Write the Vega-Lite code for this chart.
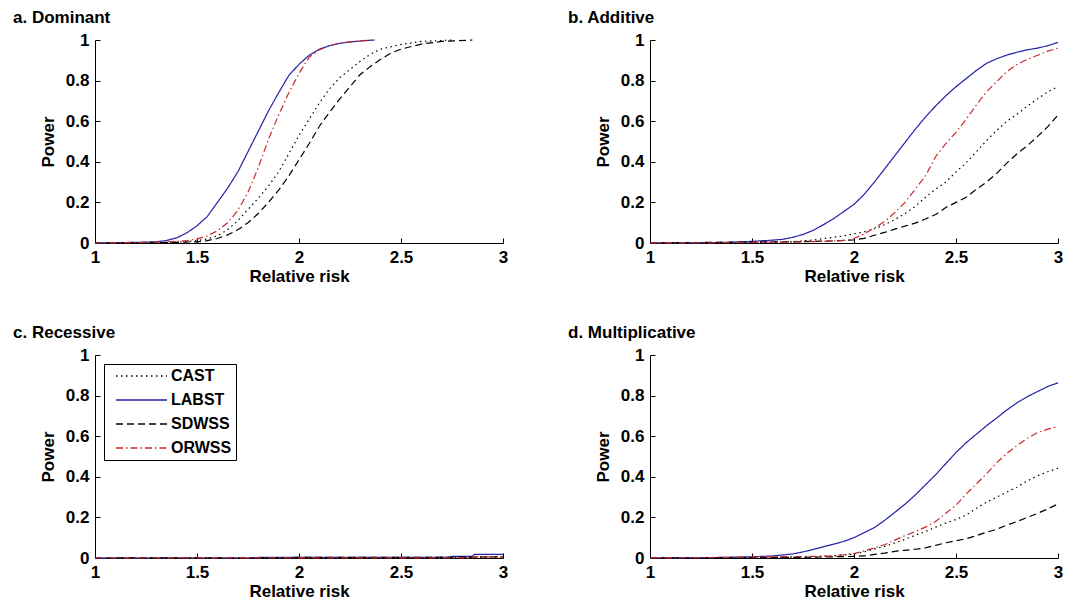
{
"$schema": "https://vega.github.io/schema/vega-lite/v6.json",
"background": "white",
"padding": {"left": 13, "top": 9, "right": 5, "bottom": 5},
"config": {
  "font": "Liberation Sans",
  "view": {"stroke": null},
  "axis": {"labelFontSize": 17, "labelFontWeight": "bold", "labelColor": "#000", "titleFontSize": 17, "titleFontWeight": "bold", "titleColor": "#000", "domainColor": "#000", "tickColor": "#000", "grid": false, "tickSize": -5, "labelFlush": false, "labelOverlap": false, "labelPadding": 11, "domainWidth": 1, "tickWidth": 1},
  "axisY": {"titlePadding": 8},
  "axisX": {"titlePadding": 3},
  "legend": {"orient": "top-left", "offset": 9, "strokeColor": "#000", "fillColor": "#fff", "padding": 4, "symbolType": "M0,0H10", "symbolSize": 104, "symbolStrokeWidth": 1.4, "labelFontSize": 16, "labelFontWeight": "bold", "labelColor": "#000", "labelOffset": 47, "rowPadding": 8},
  "title": {"fontSize": 17, "fontWeight": "bold", "anchor": "start", "color": "#000", "frame": "group", "dx": -82}
},
"datasets": {"curves": [
{"model":"Dominant","method":"CAST","rr":1,"power":0},{"model":"Dominant","method":"CAST","rr":1.2,"power":0.001},{"model":"Dominant","method":"CAST","rr":1.3,"power":0.002},{"model":"Dominant","method":"CAST","rr":1.4,"power":0.004},{"model":"Dominant","method":"CAST","rr":1.45,"power":0.007},{"model":"Dominant","method":"CAST","rr":1.5,"power":0.012},{"model":"Dominant","method":"CAST","rr":1.55,"power":0.02},{"model":"Dominant","method":"CAST","rr":1.6,"power":0.035},{"model":"Dominant","method":"CAST","rr":1.65,"power":0.065},{"model":"Dominant","method":"CAST","rr":1.7,"power":0.11},{"model":"Dominant","method":"CAST","rr":1.75,"power":0.165},{"model":"Dominant","method":"CAST","rr":1.8,"power":0.22},{"model":"Dominant","method":"CAST","rr":1.85,"power":0.28},{"model":"Dominant","method":"CAST","rr":1.9,"power":0.35},{"model":"Dominant","method":"CAST","rr":1.95,"power":0.44},{"model":"Dominant","method":"CAST","rr":2,"power":0.53},{"model":"Dominant","method":"CAST","rr":2.05,"power":0.61},{"model":"Dominant","method":"CAST","rr":2.1,"power":0.69},{"model":"Dominant","method":"CAST","rr":2.15,"power":0.76},{"model":"Dominant","method":"CAST","rr":2.2,"power":0.815},{"model":"Dominant","method":"CAST","rr":2.25,"power":0.855},{"model":"Dominant","method":"CAST","rr":2.3,"power":0.895},{"model":"Dominant","method":"CAST","rr":2.35,"power":0.93},{"model":"Dominant","method":"CAST","rr":2.4,"power":0.955},{"model":"Dominant","method":"CAST","rr":2.5,"power":0.978},{"model":"Dominant","method":"CAST","rr":2.6,"power":0.993},{"model":"Dominant","method":"CAST","rr":2.75,"power":1},
{"model":"Dominant","method":"LABST","rr":1,"power":0},{"model":"Dominant","method":"LABST","rr":1.1,"power":0.002},{"model":"Dominant","method":"LABST","rr":1.2,"power":0.003},{"model":"Dominant","method":"LABST","rr":1.3,"power":0.006},{"model":"Dominant","method":"LABST","rr":1.35,"power":0.012},{"model":"Dominant","method":"LABST","rr":1.4,"power":0.025},{"model":"Dominant","method":"LABST","rr":1.45,"power":0.05},{"model":"Dominant","method":"LABST","rr":1.5,"power":0.085},{"model":"Dominant","method":"LABST","rr":1.55,"power":0.13},{"model":"Dominant","method":"LABST","rr":1.6,"power":0.2},{"model":"Dominant","method":"LABST","rr":1.65,"power":0.27},{"model":"Dominant","method":"LABST","rr":1.7,"power":0.35},{"model":"Dominant","method":"LABST","rr":1.75,"power":0.45},{"model":"Dominant","method":"LABST","rr":1.8,"power":0.55},{"model":"Dominant","method":"LABST","rr":1.85,"power":0.65},{"model":"Dominant","method":"LABST","rr":1.9,"power":0.74},{"model":"Dominant","method":"LABST","rr":1.95,"power":0.825},{"model":"Dominant","method":"LABST","rr":2,"power":0.88},{"model":"Dominant","method":"LABST","rr":2.05,"power":0.925},{"model":"Dominant","method":"LABST","rr":2.1,"power":0.955},{"model":"Dominant","method":"LABST","rr":2.15,"power":0.972},{"model":"Dominant","method":"LABST","rr":2.2,"power":0.984},{"model":"Dominant","method":"LABST","rr":2.25,"power":0.99},{"model":"Dominant","method":"LABST","rr":2.3,"power":0.995},{"model":"Dominant","method":"LABST","rr":2.37,"power":1},
{"model":"Dominant","method":"SDWSS","rr":1,"power":0},{"model":"Dominant","method":"SDWSS","rr":1.2,"power":0.001},{"model":"Dominant","method":"SDWSS","rr":1.4,"power":0.003},{"model":"Dominant","method":"SDWSS","rr":1.5,"power":0.006},{"model":"Dominant","method":"SDWSS","rr":1.55,"power":0.012},{"model":"Dominant","method":"SDWSS","rr":1.6,"power":0.022},{"model":"Dominant","method":"SDWSS","rr":1.65,"power":0.04},{"model":"Dominant","method":"SDWSS","rr":1.7,"power":0.065},{"model":"Dominant","method":"SDWSS","rr":1.75,"power":0.1},{"model":"Dominant","method":"SDWSS","rr":1.8,"power":0.145},{"model":"Dominant","method":"SDWSS","rr":1.85,"power":0.2},{"model":"Dominant","method":"SDWSS","rr":1.9,"power":0.26},{"model":"Dominant","method":"SDWSS","rr":1.95,"power":0.33},{"model":"Dominant","method":"SDWSS","rr":2,"power":0.41},{"model":"Dominant","method":"SDWSS","rr":2.05,"power":0.49},{"model":"Dominant","method":"SDWSS","rr":2.1,"power":0.575},{"model":"Dominant","method":"SDWSS","rr":2.15,"power":0.645},{"model":"Dominant","method":"SDWSS","rr":2.2,"power":0.71},{"model":"Dominant","method":"SDWSS","rr":2.25,"power":0.77},{"model":"Dominant","method":"SDWSS","rr":2.3,"power":0.83},{"model":"Dominant","method":"SDWSS","rr":2.35,"power":0.87},{"model":"Dominant","method":"SDWSS","rr":2.4,"power":0.905},{"model":"Dominant","method":"SDWSS","rr":2.45,"power":0.935},{"model":"Dominant","method":"SDWSS","rr":2.5,"power":0.955},{"model":"Dominant","method":"SDWSS","rr":2.6,"power":0.98},{"model":"Dominant","method":"SDWSS","rr":2.7,"power":0.993},{"model":"Dominant","method":"SDWSS","rr":2.85,"power":1},
{"model":"Dominant","method":"ORWSS","rr":1,"power":0},{"model":"Dominant","method":"ORWSS","rr":1.1,"power":0.001},{"model":"Dominant","method":"ORWSS","rr":1.2,"power":0.002},{"model":"Dominant","method":"ORWSS","rr":1.3,"power":0.004},{"model":"Dominant","method":"ORWSS","rr":1.4,"power":0.008},{"model":"Dominant","method":"ORWSS","rr":1.45,"power":0.012},{"model":"Dominant","method":"ORWSS","rr":1.5,"power":0.02},{"model":"Dominant","method":"ORWSS","rr":1.55,"power":0.035},{"model":"Dominant","method":"ORWSS","rr":1.6,"power":0.06},{"model":"Dominant","method":"ORWSS","rr":1.65,"power":0.1},{"model":"Dominant","method":"ORWSS","rr":1.7,"power":0.16},{"model":"Dominant","method":"ORWSS","rr":1.75,"power":0.25},{"model":"Dominant","method":"ORWSS","rr":1.8,"power":0.37},{"model":"Dominant","method":"ORWSS","rr":1.85,"power":0.51},{"model":"Dominant","method":"ORWSS","rr":1.9,"power":0.63},{"model":"Dominant","method":"ORWSS","rr":1.95,"power":0.74},{"model":"Dominant","method":"ORWSS","rr":2,"power":0.835},{"model":"Dominant","method":"ORWSS","rr":2.05,"power":0.915},{"model":"Dominant","method":"ORWSS","rr":2.1,"power":0.952},{"model":"Dominant","method":"ORWSS","rr":2.15,"power":0.972},{"model":"Dominant","method":"ORWSS","rr":2.2,"power":0.985},{"model":"Dominant","method":"ORWSS","rr":2.3,"power":0.996},{"model":"Dominant","method":"ORWSS","rr":2.37,"power":1},
{"model":"Additive","method":"CAST","rr":1,"power":0},{"model":"Additive","method":"CAST","rr":1.5,"power":0.002},{"model":"Additive","method":"CAST","rr":1.7,"power":0.006},{"model":"Additive","method":"CAST","rr":1.8,"power":0.015},{"model":"Additive","method":"CAST","rr":1.9,"power":0.028},{"model":"Additive","method":"CAST","rr":1.95,"power":0.035},{"model":"Additive","method":"CAST","rr":2,"power":0.045},{"model":"Additive","method":"CAST","rr":2.05,"power":0.055},{"model":"Additive","method":"CAST","rr":2.1,"power":0.07},{"model":"Additive","method":"CAST","rr":2.15,"power":0.09},{"model":"Additive","method":"CAST","rr":2.2,"power":0.115},{"model":"Additive","method":"CAST","rr":2.25,"power":0.145},{"model":"Additive","method":"CAST","rr":2.3,"power":0.18},{"model":"Additive","method":"CAST","rr":2.35,"power":0.225},{"model":"Additive","method":"CAST","rr":2.4,"power":0.265},{"model":"Additive","method":"CAST","rr":2.45,"power":0.3},{"model":"Additive","method":"CAST","rr":2.5,"power":0.35},{"model":"Additive","method":"CAST","rr":2.55,"power":0.395},{"model":"Additive","method":"CAST","rr":2.6,"power":0.45},{"model":"Additive","method":"CAST","rr":2.65,"power":0.505},{"model":"Additive","method":"CAST","rr":2.7,"power":0.555},{"model":"Additive","method":"CAST","rr":2.75,"power":0.6},{"model":"Additive","method":"CAST","rr":2.8,"power":0.635},{"model":"Additive","method":"CAST","rr":2.85,"power":0.675},{"model":"Additive","method":"CAST","rr":2.9,"power":0.71},{"model":"Additive","method":"CAST","rr":2.95,"power":0.745},{"model":"Additive","method":"CAST","rr":3,"power":0.77},
{"model":"Additive","method":"LABST","rr":1,"power":0},{"model":"Additive","method":"LABST","rr":1.2,"power":0.001},{"model":"Additive","method":"LABST","rr":1.3,"power":0.002},{"model":"Additive","method":"LABST","rr":1.4,"power":0.004},{"model":"Additive","method":"LABST","rr":1.5,"power":0.008},{"model":"Additive","method":"LABST","rr":1.55,"power":0.011},{"model":"Additive","method":"LABST","rr":1.6,"power":0.014},{"model":"Additive","method":"LABST","rr":1.65,"power":0.018},{"model":"Additive","method":"LABST","rr":1.7,"power":0.028},{"model":"Additive","method":"LABST","rr":1.75,"power":0.042},{"model":"Additive","method":"LABST","rr":1.8,"power":0.062},{"model":"Additive","method":"LABST","rr":1.85,"power":0.09},{"model":"Additive","method":"LABST","rr":1.9,"power":0.12},{"model":"Additive","method":"LABST","rr":1.95,"power":0.155},{"model":"Additive","method":"LABST","rr":2,"power":0.19},{"model":"Additive","method":"LABST","rr":2.05,"power":0.24},{"model":"Additive","method":"LABST","rr":2.1,"power":0.3},{"model":"Additive","method":"LABST","rr":2.15,"power":0.365},{"model":"Additive","method":"LABST","rr":2.2,"power":0.43},{"model":"Additive","method":"LABST","rr":2.25,"power":0.495},{"model":"Additive","method":"LABST","rr":2.3,"power":0.56},{"model":"Additive","method":"LABST","rr":2.35,"power":0.62},{"model":"Additive","method":"LABST","rr":2.4,"power":0.675},{"model":"Additive","method":"LABST","rr":2.45,"power":0.725},{"model":"Additive","method":"LABST","rr":2.5,"power":0.77},{"model":"Additive","method":"LABST","rr":2.55,"power":0.81},{"model":"Additive","method":"LABST","rr":2.6,"power":0.85},{"model":"Additive","method":"LABST","rr":2.65,"power":0.885},{"model":"Additive","method":"LABST","rr":2.7,"power":0.908},{"model":"Additive","method":"LABST","rr":2.75,"power":0.926},{"model":"Additive","method":"LABST","rr":2.8,"power":0.94},{"model":"Additive","method":"LABST","rr":2.85,"power":0.952},{"model":"Additive","method":"LABST","rr":2.9,"power":0.96},{"model":"Additive","method":"LABST","rr":2.95,"power":0.972},{"model":"Additive","method":"LABST","rr":3,"power":0.988},
{"model":"Additive","method":"SDWSS","rr":1,"power":0},{"model":"Additive","method":"SDWSS","rr":1.3,"power":0.003},{"model":"Additive","method":"SDWSS","rr":1.5,"power":0.005},{"model":"Additive","method":"SDWSS","rr":1.7,"power":0.006},{"model":"Additive","method":"SDWSS","rr":1.8,"power":0.008},{"model":"Additive","method":"SDWSS","rr":1.9,"power":0.01},{"model":"Additive","method":"SDWSS","rr":2,"power":0.015},{"model":"Additive","method":"SDWSS","rr":2.05,"power":0.023},{"model":"Additive","method":"SDWSS","rr":2.1,"power":0.038},{"model":"Additive","method":"SDWSS","rr":2.15,"power":0.052},{"model":"Additive","method":"SDWSS","rr":2.2,"power":0.068},{"model":"Additive","method":"SDWSS","rr":2.25,"power":0.083},{"model":"Additive","method":"SDWSS","rr":2.3,"power":0.098},{"model":"Additive","method":"SDWSS","rr":2.35,"power":0.118},{"model":"Additive","method":"SDWSS","rr":2.4,"power":0.14},{"model":"Additive","method":"SDWSS","rr":2.45,"power":0.175},{"model":"Additive","method":"SDWSS","rr":2.5,"power":0.2},{"model":"Additive","method":"SDWSS","rr":2.55,"power":0.225},{"model":"Additive","method":"SDWSS","rr":2.6,"power":0.265},{"model":"Additive","method":"SDWSS","rr":2.65,"power":0.3},{"model":"Additive","method":"SDWSS","rr":2.7,"power":0.343},{"model":"Additive","method":"SDWSS","rr":2.75,"power":0.395},{"model":"Additive","method":"SDWSS","rr":2.8,"power":0.44},{"model":"Additive","method":"SDWSS","rr":2.85,"power":0.48},{"model":"Additive","method":"SDWSS","rr":2.9,"power":0.525},{"model":"Additive","method":"SDWSS","rr":2.95,"power":0.573},{"model":"Additive","method":"SDWSS","rr":3,"power":0.63},
{"model":"Additive","method":"ORWSS","rr":1,"power":0},{"model":"Additive","method":"ORWSS","rr":1.3,"power":0.001},{"model":"Additive","method":"ORWSS","rr":1.5,"power":0.003},{"model":"Additive","method":"ORWSS","rr":1.7,"power":0.005},{"model":"Additive","method":"ORWSS","rr":1.8,"power":0.007},{"model":"Additive","method":"ORWSS","rr":1.9,"power":0.01},{"model":"Additive","method":"ORWSS","rr":1.95,"power":0.013},{"model":"Additive","method":"ORWSS","rr":2,"power":0.022},{"model":"Additive","method":"ORWSS","rr":2.05,"power":0.045},{"model":"Additive","method":"ORWSS","rr":2.1,"power":0.075},{"model":"Additive","method":"ORWSS","rr":2.15,"power":0.105},{"model":"Additive","method":"ORWSS","rr":2.2,"power":0.15},{"model":"Additive","method":"ORWSS","rr":2.25,"power":0.2},{"model":"Additive","method":"ORWSS","rr":2.3,"power":0.265},{"model":"Additive","method":"ORWSS","rr":2.35,"power":0.33},{"model":"Additive","method":"ORWSS","rr":2.4,"power":0.425},{"model":"Additive","method":"ORWSS","rr":2.45,"power":0.49},{"model":"Additive","method":"ORWSS","rr":2.5,"power":0.545},{"model":"Additive","method":"ORWSS","rr":2.55,"power":0.61},{"model":"Additive","method":"ORWSS","rr":2.6,"power":0.68},{"model":"Additive","method":"ORWSS","rr":2.65,"power":0.745},{"model":"Additive","method":"ORWSS","rr":2.7,"power":0.795},{"model":"Additive","method":"ORWSS","rr":2.75,"power":0.845},{"model":"Additive","method":"ORWSS","rr":2.8,"power":0.88},{"model":"Additive","method":"ORWSS","rr":2.85,"power":0.905},{"model":"Additive","method":"ORWSS","rr":2.9,"power":0.925},{"model":"Additive","method":"ORWSS","rr":2.95,"power":0.945},{"model":"Additive","method":"ORWSS","rr":3,"power":0.96},
{"model":"Recessive","method":"CAST","rr":1,"power":0},{"model":"Recessive","method":"CAST","rr":1.5,"power":0.001},{"model":"Recessive","method":"CAST","rr":2,"power":0.002},{"model":"Recessive","method":"CAST","rr":2.5,"power":0.002},{"model":"Recessive","method":"CAST","rr":2.75,"power":0.003},{"model":"Recessive","method":"CAST","rr":3,"power":0.004},
{"model":"Recessive","method":"LABST","rr":1,"power":0},{"model":"Recessive","method":"LABST","rr":1.78,"power":0},{"model":"Recessive","method":"LABST","rr":1.8,"power":0.003},{"model":"Recessive","method":"LABST","rr":2.74,"power":0.003},{"model":"Recessive","method":"LABST","rr":2.75,"power":0.008},{"model":"Recessive","method":"LABST","rr":2.85,"power":0.008},{"model":"Recessive","method":"LABST","rr":2.86,"power":0.018},{"model":"Recessive","method":"LABST","rr":3,"power":0.018},
{"model":"Recessive","method":"SDWSS","rr":1,"power":0},{"model":"Recessive","method":"SDWSS","rr":1.8,"power":0.001},{"model":"Recessive","method":"SDWSS","rr":2,"power":0.003},{"model":"Recessive","method":"SDWSS","rr":2.5,"power":0.003},{"model":"Recessive","method":"SDWSS","rr":2.75,"power":0.004},{"model":"Recessive","method":"SDWSS","rr":3,"power":0.006},
{"model":"Recessive","method":"ORWSS","rr":1,"power":0},{"model":"Recessive","method":"ORWSS","rr":2.85,"power":0.001},{"model":"Recessive","method":"ORWSS","rr":2.86,"power":0.006},{"model":"Recessive","method":"ORWSS","rr":3,"power":0.006},
{"model":"Multiplicative","method":"CAST","rr":1,"power":0},{"model":"Multiplicative","method":"CAST","rr":1.6,"power":0.002},{"model":"Multiplicative","method":"CAST","rr":1.8,"power":0.006},{"model":"Multiplicative","method":"CAST","rr":1.9,"power":0.01},{"model":"Multiplicative","method":"CAST","rr":2,"power":0.02},{"model":"Multiplicative","method":"CAST","rr":2.05,"power":0.03},{"model":"Multiplicative","method":"CAST","rr":2.1,"power":0.045},{"model":"Multiplicative","method":"CAST","rr":2.15,"power":0.057},{"model":"Multiplicative","method":"CAST","rr":2.2,"power":0.074},{"model":"Multiplicative","method":"CAST","rr":2.25,"power":0.092},{"model":"Multiplicative","method":"CAST","rr":2.3,"power":0.112},{"model":"Multiplicative","method":"CAST","rr":2.35,"power":0.13},{"model":"Multiplicative","method":"CAST","rr":2.4,"power":0.152},{"model":"Multiplicative","method":"CAST","rr":2.45,"power":0.172},{"model":"Multiplicative","method":"CAST","rr":2.5,"power":0.19},{"model":"Multiplicative","method":"CAST","rr":2.55,"power":0.212},{"model":"Multiplicative","method":"CAST","rr":2.6,"power":0.245},{"model":"Multiplicative","method":"CAST","rr":2.65,"power":0.275},{"model":"Multiplicative","method":"CAST","rr":2.7,"power":0.3},{"model":"Multiplicative","method":"CAST","rr":2.75,"power":0.325},{"model":"Multiplicative","method":"CAST","rr":2.8,"power":0.35},{"model":"Multiplicative","method":"CAST","rr":2.85,"power":0.38},{"model":"Multiplicative","method":"CAST","rr":2.9,"power":0.405},{"model":"Multiplicative","method":"CAST","rr":2.95,"power":0.425},{"model":"Multiplicative","method":"CAST","rr":3,"power":0.442},
{"model":"Multiplicative","method":"LABST","rr":1,"power":0},{"model":"Multiplicative","method":"LABST","rr":1.3,"power":0.002},{"model":"Multiplicative","method":"LABST","rr":1.5,"power":0.006},{"model":"Multiplicative","method":"LABST","rr":1.6,"power":0.01},{"model":"Multiplicative","method":"LABST","rr":1.65,"power":0.015},{"model":"Multiplicative","method":"LABST","rr":1.7,"power":0.02},{"model":"Multiplicative","method":"LABST","rr":1.75,"power":0.03},{"model":"Multiplicative","method":"LABST","rr":1.8,"power":0.042},{"model":"Multiplicative","method":"LABST","rr":1.85,"power":0.055},{"model":"Multiplicative","method":"LABST","rr":1.9,"power":0.068},{"model":"Multiplicative","method":"LABST","rr":1.95,"power":0.082},{"model":"Multiplicative","method":"LABST","rr":2,"power":0.1},{"model":"Multiplicative","method":"LABST","rr":2.05,"power":0.125},{"model":"Multiplicative","method":"LABST","rr":2.1,"power":0.15},{"model":"Multiplicative","method":"LABST","rr":2.15,"power":0.185},{"model":"Multiplicative","method":"LABST","rr":2.2,"power":0.225},{"model":"Multiplicative","method":"LABST","rr":2.25,"power":0.265},{"model":"Multiplicative","method":"LABST","rr":2.3,"power":0.31},{"model":"Multiplicative","method":"LABST","rr":2.35,"power":0.36},{"model":"Multiplicative","method":"LABST","rr":2.4,"power":0.41},{"model":"Multiplicative","method":"LABST","rr":2.45,"power":0.465},{"model":"Multiplicative","method":"LABST","rr":2.5,"power":0.52},{"model":"Multiplicative","method":"LABST","rr":2.55,"power":0.568},{"model":"Multiplicative","method":"LABST","rr":2.6,"power":0.61},{"model":"Multiplicative","method":"LABST","rr":2.65,"power":0.652},{"model":"Multiplicative","method":"LABST","rr":2.7,"power":0.69},{"model":"Multiplicative","method":"LABST","rr":2.75,"power":0.73},{"model":"Multiplicative","method":"LABST","rr":2.8,"power":0.765},{"model":"Multiplicative","method":"LABST","rr":2.85,"power":0.795},{"model":"Multiplicative","method":"LABST","rr":2.9,"power":0.82},{"model":"Multiplicative","method":"LABST","rr":2.95,"power":0.845},{"model":"Multiplicative","method":"LABST","rr":3,"power":0.863},
{"model":"Multiplicative","method":"SDWSS","rr":1,"power":0},{"model":"Multiplicative","method":"SDWSS","rr":1.5,"power":0.002},{"model":"Multiplicative","method":"SDWSS","rr":1.8,"power":0.004},{"model":"Multiplicative","method":"SDWSS","rr":2,"power":0.008},{"model":"Multiplicative","method":"SDWSS","rr":2.05,"power":0.01},{"model":"Multiplicative","method":"SDWSS","rr":2.1,"power":0.018},{"model":"Multiplicative","method":"SDWSS","rr":2.15,"power":0.024},{"model":"Multiplicative","method":"SDWSS","rr":2.2,"power":0.033},{"model":"Multiplicative","method":"SDWSS","rr":2.25,"power":0.038},{"model":"Multiplicative","method":"SDWSS","rr":2.3,"power":0.043},{"model":"Multiplicative","method":"SDWSS","rr":2.35,"power":0.05},{"model":"Multiplicative","method":"SDWSS","rr":2.4,"power":0.062},{"model":"Multiplicative","method":"SDWSS","rr":2.45,"power":0.075},{"model":"Multiplicative","method":"SDWSS","rr":2.5,"power":0.085},{"model":"Multiplicative","method":"SDWSS","rr":2.55,"power":0.095},{"model":"Multiplicative","method":"SDWSS","rr":2.6,"power":0.11},{"model":"Multiplicative","method":"SDWSS","rr":2.65,"power":0.127},{"model":"Multiplicative","method":"SDWSS","rr":2.7,"power":0.142},{"model":"Multiplicative","method":"SDWSS","rr":2.75,"power":0.162},{"model":"Multiplicative","method":"SDWSS","rr":2.8,"power":0.18},{"model":"Multiplicative","method":"SDWSS","rr":2.85,"power":0.2},{"model":"Multiplicative","method":"SDWSS","rr":2.9,"power":0.22},{"model":"Multiplicative","method":"SDWSS","rr":2.95,"power":0.242},{"model":"Multiplicative","method":"SDWSS","rr":3,"power":0.266},
{"model":"Multiplicative","method":"ORWSS","rr":1,"power":0},{"model":"Multiplicative","method":"ORWSS","rr":1.35,"power":0.003},{"model":"Multiplicative","method":"ORWSS","rr":1.6,"power":0.006},{"model":"Multiplicative","method":"ORWSS","rr":1.8,"power":0.008},{"model":"Multiplicative","method":"ORWSS","rr":1.9,"power":0.01},{"model":"Multiplicative","method":"ORWSS","rr":1.95,"power":0.016},{"model":"Multiplicative","method":"ORWSS","rr":2,"power":0.022},{"model":"Multiplicative","method":"ORWSS","rr":2.05,"power":0.035},{"model":"Multiplicative","method":"ORWSS","rr":2.1,"power":0.05},{"model":"Multiplicative","method":"ORWSS","rr":2.15,"power":0.065},{"model":"Multiplicative","method":"ORWSS","rr":2.2,"power":0.088},{"model":"Multiplicative","method":"ORWSS","rr":2.25,"power":0.11},{"model":"Multiplicative","method":"ORWSS","rr":2.3,"power":0.13},{"model":"Multiplicative","method":"ORWSS","rr":2.35,"power":0.152},{"model":"Multiplicative","method":"ORWSS","rr":2.4,"power":0.18},{"model":"Multiplicative","method":"ORWSS","rr":2.45,"power":0.22},{"model":"Multiplicative","method":"ORWSS","rr":2.5,"power":0.26},{"model":"Multiplicative","method":"ORWSS","rr":2.55,"power":0.315},{"model":"Multiplicative","method":"ORWSS","rr":2.6,"power":0.365},{"model":"Multiplicative","method":"ORWSS","rr":2.65,"power":0.415},{"model":"Multiplicative","method":"ORWSS","rr":2.7,"power":0.47},{"model":"Multiplicative","method":"ORWSS","rr":2.75,"power":0.515},{"model":"Multiplicative","method":"ORWSS","rr":2.8,"power":0.555},{"model":"Multiplicative","method":"ORWSS","rr":2.85,"power":0.59},{"model":"Multiplicative","method":"ORWSS","rr":2.9,"power":0.618},{"model":"Multiplicative","method":"ORWSS","rr":2.95,"power":0.635},{"model":"Multiplicative","method":"ORWSS","rr":3,"power":0.648}
]},
"columns": 2,
"spacing": {"row": 40, "column": 60},
"resolve": {"legend": {"color": "independent", "strokeDash": "independent"}},
"concat": [
{"width": 408, "height": 203, "title": {"text": "a. Dominant"}, "data": {"name": "curves"}, "transform": [{"filter": "datum.model == 'Dominant'"}],
 "mark": {"type": "line", "strokeWidth": 1.2},
 "encoding": {
  "x": {"field": "rr", "type": "quantitative", "scale": {"domain": [1, 3]}, "axis": {"title": "Relative risk", "values": [1, 1.5, 2, 2.5, 3], "format": "~g"}},
  "y": {"field": "power", "type": "quantitative", "scale": {"domain": [0, 1]}, "axis": {"title": "Power", "values": [0, 0.2, 0.4, 0.6, 0.8, 1], "format": "~g"}},
  "color": {"field": "method", "type": "nominal", "scale": {"domain": ["CAST", "LABST", "SDWSS", "ORWSS"], "range": ["#000000", "#2222a6", "#000000", "#c92a2a"]}, "legend": null},
  "strokeDash": {"field": "method", "type": "nominal", "scale": {"domain": ["CAST", "LABST", "SDWSS", "ORWSS"], "range": [[1.5, 3.5], [1, 0], [7, 4], [7, 3, 1.5, 3]]}, "legend": null}}},
{"width": 408, "height": 203, "title": {"text": "b. Additive"}, "data": {"name": "curves"}, "transform": [{"filter": "datum.model == 'Additive'"}],
 "mark": {"type": "line", "strokeWidth": 1.2},
 "encoding": {
  "x": {"field": "rr", "type": "quantitative", "scale": {"domain": [1, 3]}, "axis": {"title": "Relative risk", "values": [1, 1.5, 2, 2.5, 3], "format": "~g"}},
  "y": {"field": "power", "type": "quantitative", "scale": {"domain": [0, 1]}, "axis": {"title": "Power", "values": [0, 0.2, 0.4, 0.6, 0.8, 1], "format": "~g"}},
  "color": {"field": "method", "type": "nominal", "scale": {"domain": ["CAST", "LABST", "SDWSS", "ORWSS"], "range": ["#000000", "#2222a6", "#000000", "#c92a2a"]}, "legend": null},
  "strokeDash": {"field": "method", "type": "nominal", "scale": {"domain": ["CAST", "LABST", "SDWSS", "ORWSS"], "range": [[1.5, 3.5], [1, 0], [7, 4], [7, 3, 1.5, 3]]}, "legend": null}}},
{"width": 408, "height": 203, "title": {"text": "c. Recessive"}, "data": {"name": "curves"}, "transform": [{"filter": "datum.model == 'Recessive'"}],
 "mark": {"type": "line", "strokeWidth": 1.2},
 "encoding": {
  "x": {"field": "rr", "type": "quantitative", "scale": {"domain": [1, 3]}, "axis": {"title": "Relative risk", "values": [1, 1.5, 2, 2.5, 3], "format": "~g"}},
  "y": {"field": "power", "type": "quantitative", "scale": {"domain": [0, 1]}, "axis": {"title": "Power", "values": [0, 0.2, 0.4, 0.6, 0.8, 1], "format": "~g"}},
  "color": {"field": "method", "type": "nominal", "scale": {"domain": ["CAST", "LABST", "SDWSS", "ORWSS"], "range": ["#000000", "#2222a6", "#000000", "#c92a2a"]}, "legend": {"title": null, "symbolType": "M0,0H10"}},
  "strokeDash": {"field": "method", "type": "nominal", "scale": {"domain": ["CAST", "LABST", "SDWSS", "ORWSS"], "range": [[1.5, 3.5], [1, 0], [7, 4], [7, 3, 1.5, 3]]}, "legend": {"title": null, "symbolType": "M0,0H10"}}}},
{"width": 408, "height": 203, "title": {"text": "d. Multiplicative"}, "data": {"name": "curves"}, "transform": [{"filter": "datum.model == 'Multiplicative'"}],
 "mark": {"type": "line", "strokeWidth": 1.2},
 "encoding": {
  "x": {"field": "rr", "type": "quantitative", "scale": {"domain": [1, 3]}, "axis": {"title": "Relative risk", "values": [1, 1.5, 2, 2.5, 3], "format": "~g"}},
  "y": {"field": "power", "type": "quantitative", "scale": {"domain": [0, 1]}, "axis": {"title": "Power", "values": [0, 0.2, 0.4, 0.6, 0.8, 1], "format": "~g"}},
  "color": {"field": "method", "type": "nominal", "scale": {"domain": ["CAST", "LABST", "SDWSS", "ORWSS"], "range": ["#000000", "#2222a6", "#000000", "#c92a2a"]}, "legend": null},
  "strokeDash": {"field": "method", "type": "nominal", "scale": {"domain": ["CAST", "LABST", "SDWSS", "ORWSS"], "range": [[1.5, 3.5], [1, 0], [7, 4], [7, 3, 1.5, 3]]}, "legend": null}}}
]
}
